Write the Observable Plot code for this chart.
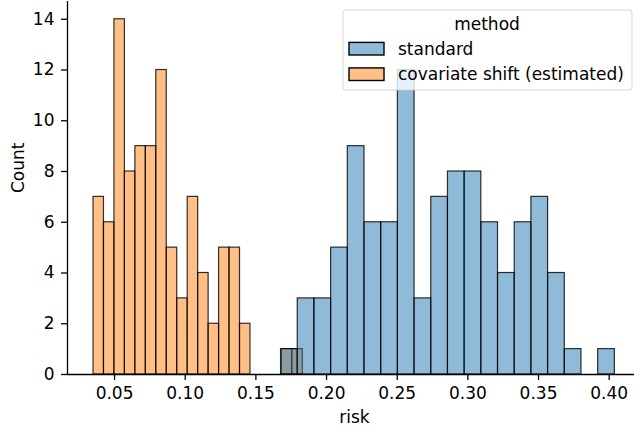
<!DOCTYPE html>
<html><head><meta charset="utf-8">
<script src="https://cdn.jsdelivr.net/npm/d3@7"></script>
<script src="https://cdn.jsdelivr.net/npm/@observablehq/plot@0.6"></script>
<style>
body{margin:0;background:#fff}
svg{display:block}
#chart svg text{font-family:"DejaVu Sans",sans-serif !important;font-size:17px !important}
</style>
</head><body><div id="chart"></div>
<script>
// --- data ---
const methods = ["standard", "covariate shift (estimated)"];
const methodColors = ["#1f77b4", "#ff7f0e"];
// 20 equal-width bins per method, between the method's min and max risk
const standardRange = [0.1678, 0.4040];
const standardCounts = [1, 3, 3, 5, 9, 6, 6, 12, 3, 7, 8, 8, 6, 4, 6, 7, 4, 1, 0, 1];
const covShiftRange = [0.0351, 0.1832];
const covShiftCounts = [7, 6, 14, 8, 9, 9, 12, 5, 3, 7, 4, 2, 5, 5, 2, 0, 0, 0, 1, 1];
const xTicks = [0.05, 0.10, 0.15, 0.20, 0.25, 0.30, 0.35, 0.40];
const yTicks = [0, 2, 4, 6, 8, 10, 12, 14];
const xLabel = "risk";
const yLabel = "Count";
const legendTitle = "method";

function bins(range, counts, method) {
  const w = (range[1] - range[0]) / counts.length;
  return counts.map((c, i) => ({method, x1: range[0] + i * w, x2: range[0] + (i + 1) * w, count: c}))
    .filter(d => d.count > 0);
}
const stdBins = bins(standardRange, standardCounts, methods[0]);
const covBins = bins(covShiftRange, covShiftCounts, methods[1]);

const barStyle = {x1: "x1", x2: "x2", y1: d => 0, y2: "count", inset: 0,
  fillOpacity: 0.5, stroke: "black", strokeOpacity: 0.8, strokeWidth: 1.2};

const plot = Plot.plot({
  width: 634, height: 430,
  marginLeft: 67, marginRight: 0, marginTop: 1, marginBottom: 56,
  style: {background: "white", color: "black", overflow: "visible"},
  x: {domain: [0.0167, 0.4179]},
  y: {domain: [0, 14.7]},
  marks: [
    Plot.rectY(covBins, {...barStyle, fill: methodColors[1]}),
    Plot.rectY(stdBins, {...barStyle, fill: methodColors[0]}),
    Plot.ruleY([0], {stroke: "black", strokeWidth: 1.3}),
    Plot.ruleX([0.0167], {stroke: "black", strokeWidth: 1.3}),
    Plot.axisX({ticks: xTicks, tickFormat: d3.format(".2f"), tickSize: 6, tickPadding: 6.5, label: null, stroke: "black", strokeWidth: 1.3}),
    Plot.axisY({ticks: yTicks, tickFormat: d => String(d), tickSize: 6, tickPadding: 7, label: null, stroke: "black", strokeWidth: 1.3}),
    Plot.text([xLabel], {frameAnchor: "bottom", dx: 3.5, dy: 43, lineAnchor: "middle"}),
    Plot.text([yLabel], {frameAnchor: "left", rotate: -90, dx: -48.5, dy: 5, lineAnchor: "middle"})
  ]
});

// legend (matplotlib style box)
const svg = d3.select(plot);
const lg = svg.append("g");
lg.append("rect").attr("x", 343).attr("y", 10).attr("width", 289).attr("height", 80)
  .attr("rx", 3).attr("fill", "white").attr("fill-opacity", 0.8)
  .attr("stroke", "#cccccc").attr("stroke-opacity", 0.8).attr("stroke-width", 1);
lg.append("text").attr("x", 487).attr("y", 24.5).attr("dy", "0.35em").attr("text-anchor", "middle").text(legendTitle);
methods.forEach((m, i) => {
  const cy = 48.7 + i * 25.5;
  lg.append("rect").attr("x", 349).attr("y", cy - 6.3).attr("width", 35).attr("height", 12.6)
    .attr("fill", methodColors[i]).attr("fill-opacity", 0.5).attr("stroke", "black").attr("stroke-width", 1.4);
  lg.append("text").attr("x", 398).attr("y", cy).attr("dy", "0.35em").attr("text-anchor", "start").text(m);
});

document.getElementById("chart").appendChild(plot);
</script>
</body></html>
